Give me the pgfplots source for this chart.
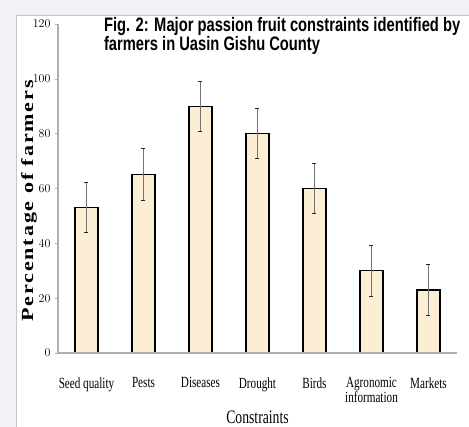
\documentclass[border=0pt]{standalone}
\usepackage{pgfplots}
\pgfplotsset{compat=1.18}
\usetikzlibrary{backgrounds}
\usepackage{fontspec}
\setmainfont{Liberation Serif}
\newfontfamily\narrowserif[FakeStretch=0.72]{Liberation Serif}
\newfontfamily\tickserif[FakeStretch=0.8]{Liberation Serif}
\newfontfamily\titlefont[FakeStretch=0.755]{Liberation Sans Bold}
\newfontfamily\ylabfont[FakeStretch=1.3,LetterSpace=11]{Liberation Serif Bold}
\definecolor{bgcol}{RGB}{240,242,245}
\definecolor{cream}{RGB}{252,238,212}
\definecolor{axgray}{RGB}{175,175,175}
\begin{document}
\begin{tikzpicture}
\begin{axis}[
  at={(0pt,0pt)}, anchor=south west,
  scale only axis, width=399pt, height=329pt,
  xmin=-0.5, xmax=6.5, ymin=0, ymax=120,
  axis x line=bottom, axis y line=left,
  axis on top,
  axis line style={axgray, -, line width=1.1pt},
  ytick={0,20,...,120},
  yticklabel style={font=\tickserif\fontsize{12}{12}\selectfont, xshift=-1pt},
  ytick style={axgray, line width=0.6pt},
  major tick length=3pt,
  tick align=outside,
  xtick={0,...,6},
  xticklabels={Seed quality, Pests, Diseases, Drought, Birds, {Agronomic\\information}, Markets},
  major x tick style={draw=none},
  x tick label style={font=\narrowserif\fontsize{15.5}{15}\selectfont, align=center, anchor=north, yshift=-18pt},
  extra x ticks={-0.5,0.5,1.5,2.5,3.5,4.5,5.5,6.5},
  extra x tick labels={},
  extra x tick style={major tick length=5pt, tick style={axgray, line width=0.6pt, draw=axgray}},
  xlabel={Constraints},
  xlabel style={font=\narrowserif\fontsize{19}{19}\selectfont, at={(rel axis cs:0.5,0)}, anchor=north, inner sep=0pt, yshift=-57.5pt},
  ylabel={Percentage of farmers},
  ylabel style={font=\ylabfont\fontsize{17}{17}\selectfont, at={(rel axis cs:-0.0727,0.462)}, anchor=center, inner sep=0pt},
  title={Fig. 2: Major passion fruit constraints identified by\\farmers in Uasin Gishu County},
  title style={font=\titlefont\fontsize{19.5}{18}\selectfont, align=left, at={(rel axis cs:0.115,1.003)}, anchor=north west, inner sep=0pt},
  clip=false,
]
\addplot[ybar, bar width=23pt, draw=black, line width=1.2pt, fill=cream,
  error bars/.cd, y dir=both, y explicit,
  error bar style={black!55, line width=0.9pt},
  error mark options={rotate=90, mark size=2pt, black!85, line width=0.9pt}]
coordinates {
(0,53) +- (0,9.2)
(1,65) +- (0,9.5)
(2,90) +- (0,9.2)
(3,80) +- (0,9.2)
(4,60) +- (0,9.2)
(5,30) +- (0,9.2)
(6,23) +- (0,9.2)
};
\end{axis}
\begin{pgfonlayer}{background}
\fill[bgcol] (-58pt,-74pt) rectangle (411pt,353pt);
\fill[white] (-42pt,-74pt) rectangle (411pt,338pt);
\draw[axgray!70, line width=0.6pt] (-42pt,-74pt) -- (-42pt,338pt) -- (411pt,338pt);
\end{pgfonlayer}
\pgfresetboundingbox
\useasboundingbox (-58pt,-74pt) rectangle (411pt,353pt);
\end{tikzpicture}
\end{document}
